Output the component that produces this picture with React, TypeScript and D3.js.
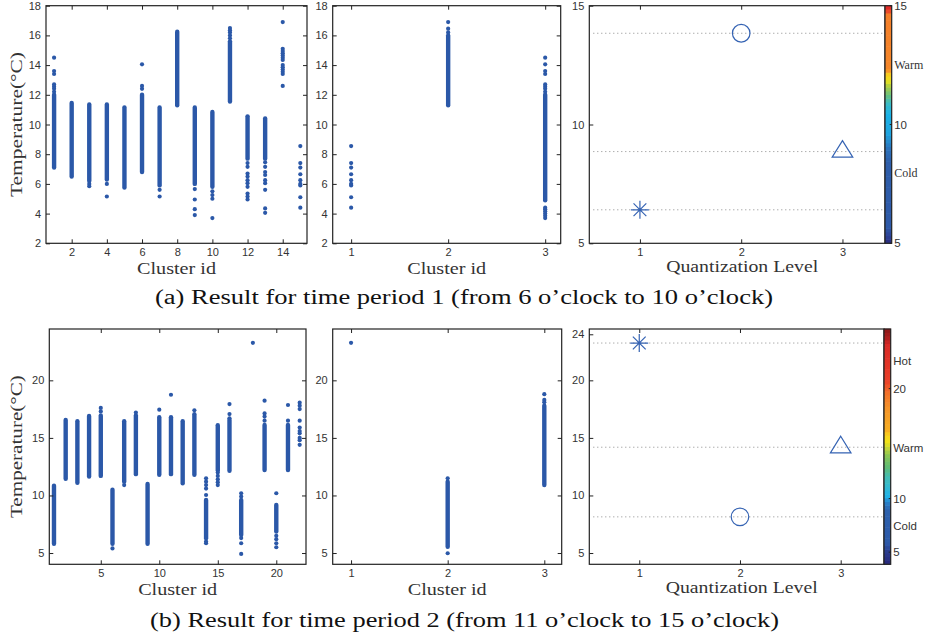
import React, { useRef, useEffect } from "react";
import * as d3 from "d3";

// ---------- period 1 (6 to 10 o'clock), 15 clusters ----------
const p1Ids = [1, 2, 3, 4, 5, 6, 7, 8, 9, 10, 11, 12, 13, 14, 15];
// dense part of each column (null = only single points)
const p1Low = [7.1, 6.5, 6.2, 6.3, 5.75, 6.8, 5.9, 11.3, 6.0, 5.8, 11.55, 7.7, 7.7, null, null];
const p1High = [12.0, 11.45, 11.35, 11.35, 11.15, 12.0, 11.15, 16.25, 11.15, 10.85, 15.6, 10.55, 10.4, null, null];
// single points outside the dense part
const p1Extra = [
  [12.2, 12.4, 12.55, 12.7, 13.4, 13.6, 14.5],
  [],
  [6.0, 5.85],
  [6.0, 5.15],
  [],
  [12.4, 12.6, 14.05],
  [5.6, 5.15],
  [],
  [5.65, 4.95, 4.3, 3.9],
  [5.5, 5.25, 5.0, 3.7],
  [15.8, 16.0, 16.2, 16.35, 16.5],
  [7.4, 7.15, 6.7, 6.5, 6.25, 6.05, 5.8, 5.35, 5.15, 4.95],
  [7.45, 7.15, 6.8, 6.6, 6.25, 6.05, 5.6, 4.35, 4.05],
  [16.9, 15.1, 14.95, 14.8, 14.65, 14.5, 14.35, 14.0, 13.85, 13.7, 13.55, 13.4, 12.6],
  [8.55, 7.4, 7.1, 6.65, 6.25, 6.0, 5.9, 5.1, 4.4],
];

// period 1 after merging into 3 clusters
const p1qIds = [1, 2, 3];
const p1qLow = [null, 11.3, 4.9];
const p1qHigh = [null, 16.0, 12.0];
const p1qExtra = [
  [8.55, 7.4, 7.1, 6.65, 6.25, 6.0, 5.9, 5.1, 4.4],
  [16.2, 16.45, 16.9],
  [12.2, 12.4, 12.55, 12.7, 13.4, 13.6, 14.05, 14.5, 4.4, 4.3, 4.15, 4.0, 3.85, 3.7],
];

// period 1 quantization levels
const p1Levels = [1, 2, 3];
const p1LevelTemp = [6.41, 13.84, 8.86];
const p1LevelMarker = ["star", "circle", "triangle"];

// period 1 colorbar
const cb1Values = [5.0, 5.25, 5.7, 8.4, 9.0, 9.6, 10.45, 10.9, 11.2, 11.6, 11.85, 12.15, 12.3, 14.7, 14.8, 14.93, 15.0];
const cb1Colors = ["#28287a", "#2c3f94", "#2e5aa8", "#2e5eaa", "#2b73bb", "#1fa3df", "#1ab2e6", "#3dbcc4", "#64c084", "#a9cd45", "#eae21e", "#f9c51e", "#f5872a", "#f47f2a", "#e8302a", "#e02a26", "#8a1a1a"];
const cb1Labels = ["15", "Warm", "10", "Cold", "5"];
const cb1LabelValues = [15, 12.5, 10, 7.95, 5];

// ---------- period 2 (11 to 15 o'clock), 22 clusters ----------
const p2Ids = [1, 2, 3, 4, 5, 6, 7, 8, 9, 10, 11, 12, 13, 14, 15, 16, 17, 18, 19, 20, 21, 22];
const p2Low = [5.8, 11.45, 11.1, 11.65, 11.7, 5.8, 11.2, 11.85, 5.8, 11.8, 11.85, 11.05, 11.8, 6.28, 12.2, 12.15, 6.57, null, 12.21, 6.86, 12.21, null];
const p2High = [10.85, 16.55, 16.45, 16.9, 16.95, 10.5, 16.45, 16.95, 11.0, 16.8, 16.8, 16.45, 17.05, 9.6, 16.1, 16.55, 9.61, null, 16.12, 9.18, 16.12, null];
const p2Extra = [
  [], [], [], [],
  [17.3, 17.6],
  [5.4],
  [10.9],
  [17.2],
  [],
  [17.45],
  [18.75],
  [],
  [17.4],
  [11.49, 11.2, 10.9, 10.6, 10.04, 6.0, 5.85],
  [12.0, 11.7, 11.4, 11.15, 10.9],
  [16.7, 17.07, 17.94],
  [10.19, 9.9, 6.3, 5.85, 4.92],
  [23.26],
  [16.5, 16.85, 17.13, 18.23],
  [10.19, 6.5, 6.2, 5.85, 5.5],
  [16.5, 17.86],
  [18.06, 17.8, 17.5, 16.5, 15.9, 15.6, 15.4, 15.0, 14.8, 14.4],
];

const p2qIds = [1, 2, 3];
const p2qLow = [null, 5.55, 10.9];
const p2qHigh = [null, 11.2, 17.8];
const p2qExtra = [[23.26], [11.49, 4.98], [18.1, 18.3, 18.8]];

const p2Levels = [1, 2, 3];
const p2LevelTemp = [23.24, 8.14, 14.19];
const p2LevelMarker = ["star", "circle", "triangle"];

const cb2Values = [3.9, 5.0, 5.8, 8.8, 9.6, 10.0, 10.7, 11.8, 12.6, 13.8, 14.4, 15.0, 15.6, 16.0, 18.0, 19.5, 20.5, 23.8, 24.3, 25.2];
const cb2Colors = ["#28287a", "#2b3a8c", "#2e5aa8", "#2e62ad", "#2a86cc", "#1fb1e8", "#2fb8d8", "#45bdb4", "#5cbb7a", "#8cc652", "#c3d53a", "#f2e41a", "#f9d01c", "#f8b021", "#f5952a", "#f26e2a", "#ea3f29", "#d92a27", "#b22020", "#8a1818"];
const cb2Labels = ["Hot", "20", "Warm", "10", "Cold", "5"];
const cb2LabelValues = [22.3, 19.8, 14.4, 9.85, 7.4, 5.0];

const SANS = "'Liberation Sans', Arial, Helvetica, sans-serif";
const SERIF = "'Liberation Serif', 'Times New Roman', serif";
const BLUE = "#2b58a8";
const MARK = "#3563b3";

// draws the frame with inward ticks on all sides
function drawAxes(g, x, y, box, xTicks, yTicks, rightTicks) {
  const style = (s) => {
    s.select(".domain").remove();
    s.attr("font-family", SANS).attr("font-size", 11).attr("color", "#333");
    s.selectAll("line").attr("stroke", "#222");
  };
  g.append("g").attr("transform", `translate(0,${box.y1})`)
    .call(d3.axisBottom(x).tickValues(xTicks).tickSize(-4).tickPadding(5).tickFormat(d3.format("d"))).call(style);
  g.append("g").attr("transform", `translate(0,${box.y0})`)
    .call(d3.axisTop(x).tickValues(xTicks).tickSize(-4).tickFormat(() => "")).call(style);
  g.append("g").attr("transform", `translate(${box.x0},0)`)
    .call(d3.axisLeft(y).tickValues(yTicks).tickSize(-4).tickPadding(5).tickFormat(d3.format("d"))).call(style);
  if (rightTicks) {
    g.append("g").attr("transform", `translate(${box.x1},0)`)
      .call(d3.axisRight(y).tickValues(yTicks).tickSize(-4).tickFormat(() => "")).call(style);
  }
  g.append("rect")
    .attr("x", box.x0).attr("y", box.y0)
    .attr("width", box.x1 - box.x0).attr("height", box.y1 - box.y0)
    .attr("fill", "none").attr("stroke", "#222").attr("stroke-width", 1.2);
}

function drawScatter(svg, box, xDomain, yDomain, xTicks, yTicks, ids, low, high, extra, xLabel) {
  const g = svg.append("g");
  const x = d3.scaleLinear().domain(xDomain).range([box.x0, box.x1]);
  const y = d3.scaleLinear().domain(yDomain).range([box.y1, box.y0]);

  // dense columns
  const dense = ids.map((id, i) => ({ id, lo: low[i], hi: high[i] })).filter((d) => d.lo != null);
  g.selectAll("line.col").data(dense).enter().append("line")
    .attr("x1", (d) => x(d.id)).attr("x2", (d) => x(d.id))
    .attr("y1", (d) => y(d.lo)).attr("y2", (d) => y(d.hi))
    .attr("stroke", BLUE).attr("stroke-width", 4.4).attr("stroke-linecap", "round");

  // single points
  const pts = [];
  ids.forEach((id, i) => extra[i].forEach((v) => pts.push({ id, v })));
  g.selectAll("circle.pt").data(pts).enter().append("circle")
    .attr("cx", (d) => x(d.id)).attr("cy", (d) => y(d.v)).attr("r", 2.1).attr("fill", BLUE);

  drawAxes(g, x, y, box, xTicks, yTicks, true);

  g.append("text")
    .attr("x", (box.x0 + box.x1) / 2).attr("y", box.y1 + 31)
    .attr("text-anchor", "middle").attr("font-family", SERIF).attr("font-size", 17)
    .attr("fill", "#333").attr("textLength", 79).attr("lengthAdjust", "spacingAndGlyphs")
    .text(xLabel);
  return g;
}

function drawLevels(svg, box, xDomain, yDomain, yTicks, levels, temps, markers, cb) {
  const g = svg.append("g");
  const x = d3.scaleLinear().domain(xDomain).range([box.x0, box.x1]);
  const y = d3.scaleLinear().domain(yDomain).range([box.y1, box.y0]);

  const rows = levels.map((l, i) => ({ l, t: temps[i], m: markers[i] }));

  g.selectAll("line.ref").data(rows).enter().append("line")
    .attr("x1", box.x0 + 4).attr("x2", box.x1)
    .attr("y1", (d) => y(d.t)).attr("y2", (d) => y(d.t))
    .attr("stroke", "#8a8a8a").attr("stroke-width", 1).attr("stroke-dasharray", "1,3");

  const mk = g.selectAll("g.mk").data(rows).enter().append("g")
    .attr("transform", (d) => `translate(${x(d.l)},${y(d.t)})`)
    .attr("fill", "none").attr("stroke", MARK).attr("stroke-width", 1.2);
  mk.filter((d) => d.m === "circle").append("circle").attr("r", 8.8);
  mk.filter((d) => d.m === "triangle").append("path").attr("d", "M0,-11L10.3,5.6L-10.3,5.6Z");
  mk.filter((d) => d.m === "star").append("path")
    .attr("d", "M-9,0H9M0,-9V9M-6.4,-6.4L6.4,6.4M-6.4,6.4L6.4,-6.4");

  drawAxes(g, x, y, box, [1, 2, 3], yTicks, false);

  // colorbar
  const cbX = box.x1;
  const cbW = 6.7;
  const cy = d3.scaleLinear().domain(cb.domain).range([box.y1, box.y0]);
  const color = d3.scaleLinear().domain(cb.values).range(cb.colors).interpolate(d3.interpolateRgb).clamp(true);
  const nBands = 64;
  const bands = d3.range(nBands).map((i) => cb.domain[0] + ((i + 0.5) * (cb.domain[1] - cb.domain[0])) / nBands);
  const bh = (box.y1 - box.y0) / nBands;
  g.selectAll("rect.band").data(bands).enter().append("rect")
    .attr("x", cbX).attr("width", cbW)
    .attr("y", (d) => cy(d) - bh / 2 - 0.3).attr("height", bh + 0.6)
    .attr("fill", (d) => color(d));
  g.append("rect").attr("x", cbX).attr("y", box.y0).attr("width", cbW).attr("height", box.y1 - box.y0)
    .attr("fill", "none").attr("stroke", "#222").attr("stroke-width", 1.2);

  const labs = cb.labels.map((t, i) => ({ t, v: cb.labelValues[i] }));
  g.selectAll("text.cbl").data(labs).enter().append("text")
    .attr("x", cbX + cbW + 2.5).attr("y", (d) => cy(d.v)).attr("dy", "0.35em")
    .attr("font-family", (d) => (/^\d+$/.test(d.t) || !cb.serifWords ? SANS : SERIF))
    .attr("font-size", (d) => (/^\d+$/.test(d.t) ? 11.5 : cb.serifWords ? 12 : 11.5))
    .attr("fill", "#333")
    .text((d) => d.t);
  g.selectAll("line.cbt").data(labs.filter((d) => /^\d+$/.test(d.t))).enter().append("line")
    .attr("x1", cbX + cbW - 2).attr("x2", cbX + cbW)
    .attr("y1", (d) => cy(d.v)).attr("y2", (d) => cy(d.v))
    .attr("stroke", "#222");

  g.append("text")
    .attr("x", (box.x0 + box.x1) / 2 + 5).attr("y", box.y1 + 29)
    .attr("text-anchor", "middle").attr("font-family", SERIF).attr("font-size", 16)
    .attr("fill", "#333").attr("textLength", 152).attr("lengthAdjust", "spacingAndGlyphs")
    .text("Quantization Level");
}

export default function App() {
  const svgRef = useRef(null);

  useEffect(() => {
    const svg = d3.select(svgRef.current);
    svg.selectAll("*").remove();

    // ---- row (a) ----
    const topY0 = 5.7;
    const topY1 = 243.3;
    drawScatter(svg, { x0: 46, x1: 307, y0: topY0, y1: topY1 }, [0.54, 15.38], [2, 18],
      [2, 4, 6, 8, 10, 12, 14], [2, 4, 6, 8, 10, 12, 14, 16, 18], p1Ids, p1Low, p1High, p1Extra, "Cluster id");
    drawScatter(svg, { x0: 332.7, x1: 560.7, y0: topY0, y1: topY1 }, [0.81, 3.16], [2, 18],
      [1, 2, 3], [2, 4, 6, 8, 10, 12, 14, 16, 18], p1qIds, p1qLow, p1qHigh, p1qExtra, "Cluster id");
    drawLevels(svg, { x0: 589.3, x1: 885, y0: topY0, y1: topY1 }, [0.5, 3.42], [5, 15], [5, 10, 15],
      p1Levels, p1LevelTemp, p1LevelMarker,
      { domain: [5, 15], values: cb1Values, colors: cb1Colors, labels: cb1Labels, labelValues: cb1LabelValues, serifWords: true });

    // ---- row (b) ----
    const botY0 = 329;
    const botY1 = 564.3;
    drawScatter(svg, { x0: 49.3, x1: 306, y0: botY0, y1: botY1 }, [0.6, 22.54], [4.02, 24.46],
      [5, 10, 15, 20], [5, 10, 15, 20], p2Ids, p2Low, p2High, p2Extra, "Cluster id");
    drawScatter(svg, { x0: 332.7, x1: 561.7, y0: botY0, y1: botY1 }, [0.81, 3.18], [4.02, 24.46],
      [1, 2, 3], [5, 10, 15, 20], p2qIds, p2qLow, p2qHigh, p2qExtra, "Cluster id");
    drawLevels(svg, { x0: 589.3, x1: 884, y0: botY0, y1: botY1 }, [0.504, 3.43], [4.02, 24.46], [5, 10, 15, 20, 24],
      p2Levels, p2LevelTemp, p2LevelMarker,
      { domain: [3.9, 25.2], values: cb2Values, colors: cb2Colors, labels: cb2Labels, labelValues: cb2LabelValues, serifWords: false });

    // y axis titles
    [[124.5, 145], [446.6, 143]].forEach(([cy, len]) => {
      svg.append("text")
        .attr("transform", `translate(22,${cy}) rotate(-90)`)
        .attr("text-anchor", "middle").attr("font-family", SERIF).attr("font-size", 17)
        .attr("fill", "#333").attr("textLength", len).attr("lengthAdjust", "spacingAndGlyphs")
        .text("Temperature(°C)");
    });

    // captions
    svg.append("text")
      .attr("x", 464).attr("y", 304).attr("text-anchor", "middle")
      .attr("font-family", SERIF).attr("font-size", 20).attr("fill", "#111")
      .attr("textLength", 618).attr("lengthAdjust", "spacingAndGlyphs")
      .text("(a) Result for time period 1 (from 6 o\u2019clock to 10 o\u2019clock)");
    svg.append("text")
      .attr("x", 464.5).attr("y", 627).attr("text-anchor", "middle")
      .attr("font-family", SERIF).attr("font-size", 20).attr("fill", "#111")
      .attr("textLength", 629).attr("lengthAdjust", "spacingAndGlyphs")
      .text("(b) Result for time period 2 (from 11 o\u2019clock to 15 o\u2019clock)");
  }, []);

  return (
    <svg
      ref={svgRef}
      width={931}
      height={637}
      style={{ position: "absolute", left: 0, top: 0, background: "#fff", display: "block" }}
    ></svg>
  );
}
